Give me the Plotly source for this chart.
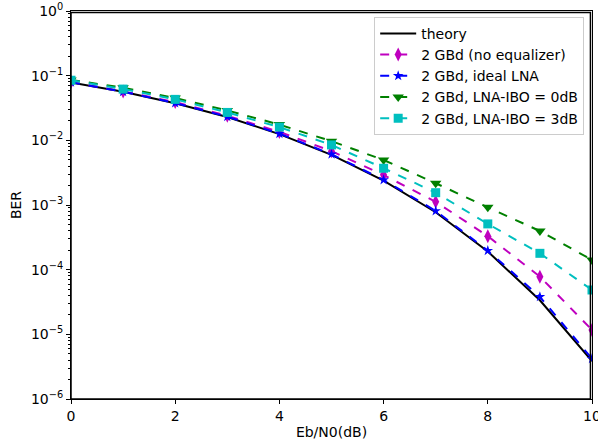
import plotly.graph_objects as go

ebn0 = [0, 1, 2, 3, 4, 5, 6, 7, 8, 9, 10]
ber_theory = [0.0786, 0.0563, 0.0375, 0.0229, 0.0125, 0.00595, 0.00239, 7.73e-4, 1.91e-4, 3.36e-5, 3.87e-6]
ber_no_eq = [0.080, 0.057, 0.039, 0.024, 0.0135, 0.0068, 0.0029, 1.12e-3, 3.3e-4, 7.8e-5, 1.17e-5]
ber_ideal = [0.079, 0.0565, 0.0378, 0.0232, 0.0127, 0.0061, 0.00244, 8.1e-4, 1.97e-4, 3.8e-5, 4.2e-6]
ber_ibo0 = [0.086, 0.065, 0.045, 0.029, 0.0175, 0.0097, 0.00497, 2.17e-3, 9.2e-4, 3.96e-4, 1.41e-4]
ber_ibo3 = [0.085, 0.062, 0.043, 0.027, 0.016, 0.0085, 0.0037, 1.55e-3, 5.1e-4, 1.79e-4, 4.85e-5]

y_tickvals = [1e-6, 1e-5, 1e-4, 1e-3, 1e-2, 1e-1, 1e0]
y_ticktext = ["10<sup>\u22126</sup>", "10<sup>\u22125</sup>", "10<sup>\u22124</sup>",
              "10<sup>\u22123</sup>", "10<sup>\u22122</sup>", "10<sup>\u22121</sup>", "10<sup>0</sup>"]
x_tickvals = [0, 2, 4, 6, 8, 10]

minor_vals = [m * 10 ** e for e in range(-6, 0) for m in range(2, 10)]

fig = go.Figure()
fig.add_trace(go.Scatter(x=ebn0, y=ber_theory, mode="lines", name="theory",
                         line=dict(color="black", width=2)))
fig.add_trace(go.Scatter(x=ebn0, y=ber_no_eq, mode="lines+markers", name="2 GBd (no equalizer)",
                         line=dict(color="#bf00bf", width=2, dash="dash"),
                         marker=dict(symbol="diamond-tall", size=10, color="#bf00bf")))
fig.add_trace(go.Scatter(x=ebn0, y=ber_ideal, mode="lines+markers", name="2 GBd, ideal LNA",
                         line=dict(color="#0000ff", width=2, dash="dash"),
                         marker=dict(symbol="star", size=8, color="#0000ff")))
fig.add_trace(go.Scatter(x=ebn0, y=ber_ibo0, mode="lines+markers", name="2 GBd, LNA-IBO = 0dB",
                         line=dict(color="#008000", width=2, dash="dash"),
                         marker=dict(symbol="triangle-down", size=10, color="#008000")))
fig.add_trace(go.Scatter(x=ebn0, y=ber_ibo3, mode="lines+markers", name="2 GBd, LNA-IBO = 3dB",
                         line=dict(color="#00bfbf", width=2, dash="dash"),
                         marker=dict(symbol="square", size=9, color="#00bfbf")))

axis_font = dict(family="DejaVu Sans", size=14, color="black")
fig.update_layout(
    width=598, height=447,
    margin=dict(l=71, r=6, t=11, b=48, autoexpand=False),
    paper_bgcolor="white", plot_bgcolor="white",
    font=axis_font,
    showlegend=True,
    legend=dict(x=0.985, y=0.985, xanchor="right", yanchor="top",
                bgcolor="rgba(255,255,255,0.8)", bordercolor="#cccccc", borderwidth=1,
                font=dict(family="DejaVu Sans", size=14, color="black"),
                tracegroupgap=0, itemwidth=36),
    xaxis=dict(range=[0, 10], tickvals=x_tickvals, showgrid=False, zeroline=False,
               showline=True, linecolor="black", linewidth=1, mirror=True,
               ticks="outside", ticklen=4, tickcolor="black", ticklabeloverflow="allow",
               title=dict(text="Eb/N0(dB)", font=axis_font, standoff=4)),
    yaxis=dict(type="log", range=[-6, 0], tickvals=y_tickvals, ticktext=y_ticktext,
               showgrid=False, zeroline=False,
               showline=True, linecolor="black", linewidth=1, mirror=True,
               ticks="outside", ticklen=4, tickcolor="black", ticklabeloverflow="allow",
               minor=dict(tickvals=minor_vals, ticks="outside", ticklen=2, tickcolor="black", showgrid=False),
               title=dict(text="BER", font=axis_font, standoff=6)),
    shapes=[dict(type="rect", xref="paper", yref="paper", x0=0, y0=0, x1=0.997, y1=0.996,
                 line=dict(color="black", width=1.5), fillcolor="rgba(0,0,0,0)", layer="above")],
)

# remove the default 8px page margin so the 598x447 figure fills the window exactly
fig.write_html("out.html", config={"displayModeBar": False},
               post_script="document.body.style.margin='0';document.body.style.overflow='hidden';")
